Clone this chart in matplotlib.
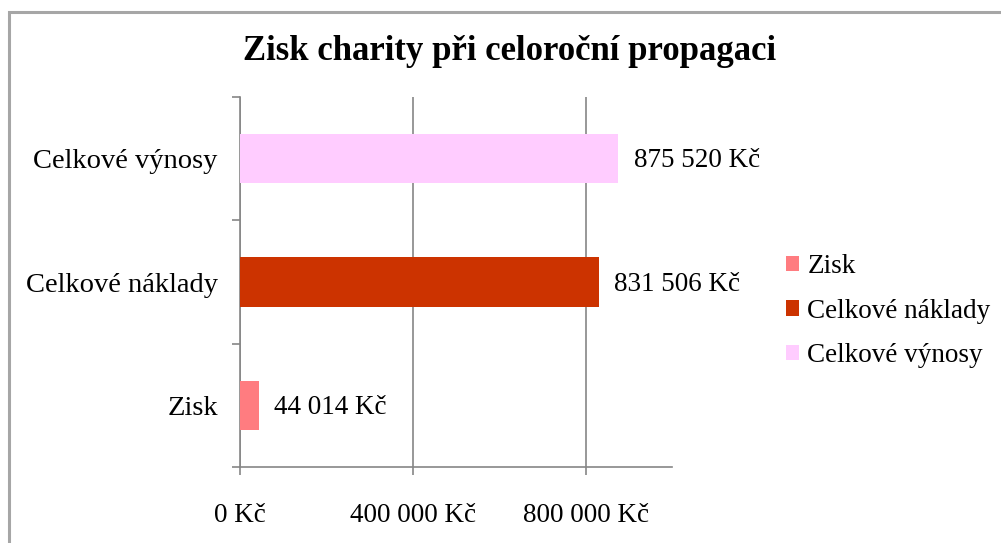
import matplotlib
matplotlib.use("Agg")
import matplotlib.pyplot as plt
from matplotlib.patches import Patch, Rectangle
from matplotlib.ticker import FuncFormatter

# data
categories = ["Zisk", "Celkové náklady", "Celkové výnosy"]
values = [44014, 831506, 875520]
colors = ["#FF7C80", "#CC3300", "#FFCCFF"]
xticks = [0, 400000, 800000]

plt.rcParams['font.family'] = ['Liberation Serif', 'DejaVu Serif']

def kc(v, pos=None):
    return f"{v:,.0f}".replace(",", " ") + " Kč"

W, H = 1001, 543
fig = plt.figure(figsize=(W/100, H/100), dpi=100)
fig.patch.set_facecolor("white")

# outer chart frame (cut off at right/bottom like the screenshot)
fig.add_artist(Rectangle((9/W, -0.1), 1.5, 1 - 12/H + 0.1, transform=fig.transFigure,
                         fill=False, edgecolor="#A6A6A6", lw=2.2))

ax = fig.add_axes([240/W, 1 - 467/H, (672-240)/W, (467-97)/H])
pos = list(range(len(categories)))
ax.barh(pos, values, height=0.4, color=colors, zorder=3)

for p, v in zip(pos, values):
    ax.annotate(kc(v), (v, p), xytext=(11, -1.5), textcoords="offset points",
                va="center", ha="left", fontsize=19.5)

ax.set_xlim(0, 1000000)
ax.set_ylim(-0.5, 2.5)
ax.set_xticks(xticks)
ax.xaxis.set_major_formatter(FuncFormatter(kc))
ax.set_yticks(pos)
ax.set_yticklabels(categories)
ax.set_yticks([-0.5, 0.5, 1.5, 2.5], minor=True)

gc = "#868686"
ax.grid(axis="x", color=gc, lw=1.2, zorder=0)
for s in ["top", "right"]:
    ax.spines[s].set_visible(False)
for s in ["left", "bottom"]:
    ax.spines[s].set_color(gc)
    ax.spines[s].set_linewidth(1.2)
ax.tick_params(axis="y", which="major", length=0, pad=16, labelsize=20.5)
ax.tick_params(axis="y", which="minor", length=6, color=gc, width=1.2)
ax.tick_params(axis="x", length=6, color=gc, width=1.2, pad=20, labelsize=19.5)

fig.text(510/W, 1 - 52/H, "Zisk charity při celoroční propagaci", ha="center", va="center",
         fontsize=25, fontweight="bold")

handles = [Patch(facecolor=c) for c in colors]
fig.legend(handles, categories, loc="center left", bbox_to_anchor=(772/W, 1 - 311/H),
           frameon=False, fontsize=19.5, handlelength=0.5, handleheight=0.5,
           handletextpad=0.3, labelspacing=0.72, borderpad=0)

fig.savefig("out.png", dpi=100)
